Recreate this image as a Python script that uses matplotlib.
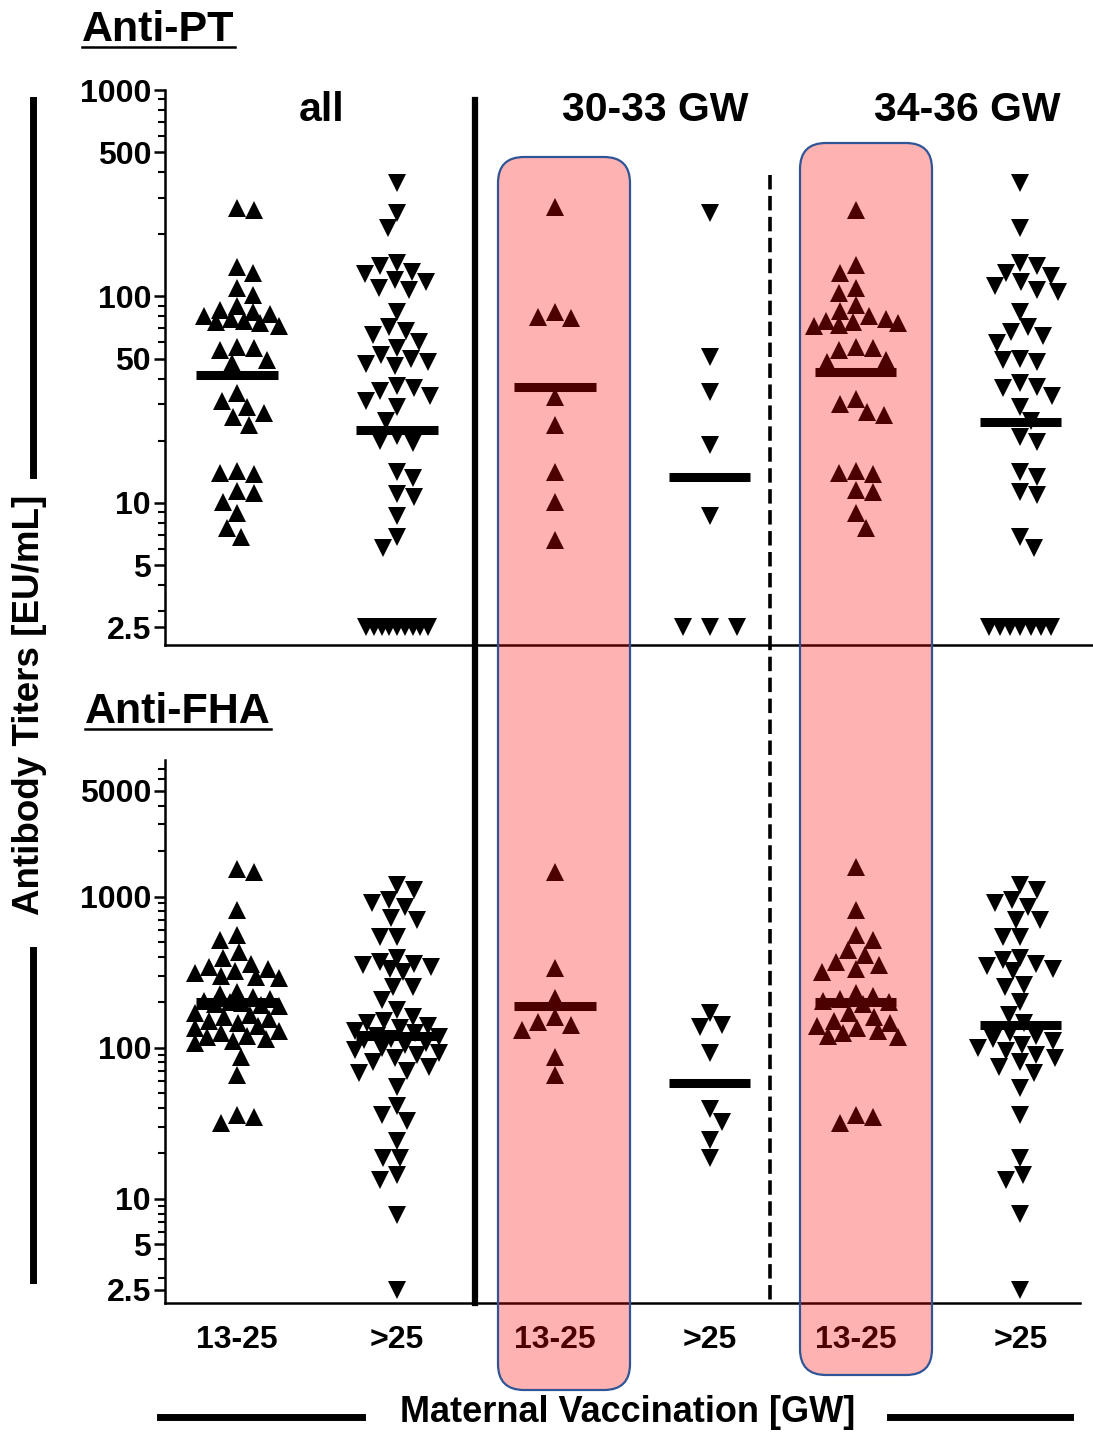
import numpy as np
import matplotlib
matplotlib.use('Agg')
import matplotlib.pyplot as plt
from matplotlib.patches import FancyBboxPatch
from matplotlib.lines import Line2D
from matplotlib.transforms import IdentityTransform, blended_transform_factory
import matplotlib.ticker as mticker

plt.rcParams['font.family'] = ['Liberation Sans', 'DejaVu Sans']
plt.rcParams['font.weight'] = 'bold'

# ---------------- data ----------------
group_labels = ["13-25", ">25", "13-25", ">25", "13-25", ">25"]
section_titles = ["all", "30-33 GW", "34-36 GW"]

pt_all_early = [268, 262, 139, 130, 110, 102, 90, 86, 84, 82, 80, 78, 76, 75, 74, 72,
                56, 55, 57, 49, 47.5, 34, 31, 29, 27.3, 26, 23.8, 14.2, 14, 13.8,
                11.4, 11.2, 10.1, 8.9, 7.6, 6.8]
pt_all_late = [355, 254, 215, 145, 140, 132, 128, 120, 117, 110, 107, 84, 71, 68, 65, 60,
               56, 52, 50, 48, 47, 46, 37, 36, 35, 33, 31, 29, 25, 21, 20, 19.6, 14.1,
               13.2, 11, 10.7, 8.6, 6.8, 6.05,
               2.5, 2.5, 2.5, 2.5, 2.5, 2.5, 2.5, 2.5, 2.5]
pt_3033_early = [271, 84, 79.5, 78.7, 32.6, 23.8, 14.1, 10.1, 6.6]
pt_3033_late = [254, 51, 34.5, 19.1, 8.6, 2.5, 2.5, 2.5]
pt_3436_early = [262, 142, 130, 110, 104, 91, 85, 80, 78, 76, 75, 74, 73, 72, 56, 55, 57,
                 49, 48, 32, 30, 27.6, 26.6, 14.2, 14, 13.8, 11.6, 11.3, 8.9, 7.6]
pt_3436_late = [355, 215, 145, 140, 130, 125, 118, 112, 108, 105, 84, 71, 67, 64, 59.5,
                49, 48, 50, 38, 36.5, 36, 33, 29, 25, 20.9, 19.8, 14.1, 13.4, 11.3, 10.9,
                6.8, 6.05, 2.5, 2.5, 2.5, 2.5, 2.5, 2.5, 2.5]
pt_means = [41.7, 22.6, 36.5, 13.4, 43.0, 24.7]

fha_all_early = [1510, 1460, 820, 560, 519, 433, 395, 360, 340, 330, 320, 310, 300, 295,
                 290, 235, 225, 215, 210, 205, 200, 198, 195, 192, 188, 170, 165, 160,
                 155, 150, 145, 140, 135, 130, 125, 120, 118, 115, 110, 108, 87, 66, 36,
                 32, 35]
fha_all_late = [1200, 1110, 950, 900, 850, 725, 700, 543, 543, 390, 370, 360, 350, 340,
                330, 315, 253, 253, 207, 178, 160, 150, 145, 140, 135, 130, 125, 120,
                118, 115, 112, 108, 105, 100, 97, 93, 90, 85, 80, 75, 70, 68, 55, 41, 36,
                33, 24, 18.6, 18.6, 14.4, 13.4, 7.8, 2.5]
fha_3033_early = [1460, 339, 214, 160, 149, 142, 132, 87, 66]
fha_3033_late = [171, 142, 138, 93, 39.3, 32.3, 24.6, 18.6]
fha_3436_early = [1560, 820, 560, 519, 445, 413, 370, 350, 330, 315, 230, 220, 210, 205,
                  200, 195, 170, 160, 150, 145, 140, 135, 130, 125, 120, 118, 36, 32, 35]
fha_3436_late = [1200, 1110, 950, 900, 850, 700, 700, 543, 543, 395, 380, 360, 345, 330,
                 320, 260, 253, 202, 165, 146, 125, 120, 115, 110, 105, 100, 95, 90, 85,
                 80, 75, 68, 54, 36, 18.6, 14.4, 13.4, 8, 2.5]
fha_means = [202, 120, 190, 58.6, 202, 142]

pt_ticks = [2.5, 5, 10, 50, 100, 500, 1000]
pt_ticklabels = ["2.5", "5", "10", "50", "100", "500", "1000"]
fha_ticks = [2.5, 5, 10, 100, 1000, 5000]
fha_ticklabels = ["2.5", "5", "10", "100", "1000", "5000"]

# ---------------- layout ----------------
W, H = 1093, 1432
fig = plt.figure(figsize=(W / 100, H / 100), dpi=100)


def fx(px):
    return px / W


def fy(py):
    return 1 - py / H


positions = [0, 1.02, 2.025, 3.01, 3.94, 4.99]
xlim = (-0.4586, 5.452)
markers = ['^', 'v', '^', 'v', '^', 'v']

ax1 = fig.add_axes([fx(165), fy(645), fx(1093) - fx(165), fy(90) - fy(645)])
ax2 = fig.add_axes([fx(165), fy(1303), fx(1093) - fx(165), fy(760) - fy(1303)])


def minor_ticks(lo, hi):
    out = []
    for dec in [1, 10, 100, 1000]:
        for m in range(2, 10):
            v = m * dec
            if lo < v < hi:
                out.append(v)
    return out


def setup(ax, ylim, ticks, labels):
    ax.set_yscale('log')
    ax.set_xlim(*xlim)
    ax.set_ylim(*ylim)
    for s in ['top', 'right']:
        ax.spines[s].set_visible(False)
    for s in ['left', 'bottom']:
        ax.spines[s].set_linewidth(1.8)
    ax.yaxis.set_major_locator(mticker.FixedLocator(ticks))
    ax.yaxis.set_major_formatter(mticker.FixedFormatter(labels))
    mins = [v for v in minor_ticks(ylim[0], ylim[1]) if v not in ticks]
    ax.yaxis.set_minor_locator(mticker.FixedLocator(mins))
    ax.yaxis.set_minor_formatter(mticker.NullFormatter())
    ax.tick_params(axis='y', which='major', length=8, width=1.8, labelsize=23, pad=2)
    ax.tick_params(axis='y', which='minor', length=5, width=1.5)
    ax.patch.set_visible(False)


setup(ax1, (2.05, 1000), pt_ticks, pt_ticklabels)
setup(ax2, (2.05, 8000), fha_ticks, fha_ticklabels)
ax1.set_xticks([])
ax2.set_xticks(positions)
ax2.set_xticklabels(group_labels, fontsize=23, fontweight='bold')
ax2.tick_params(axis='x', length=0, pad=16)
ax2.spines['bottom'].set_bounds(xlim[0], 5.37)


def swarm(ax, vals, xc, mind=17.0, maxw=42.0, tie_span=62.0, tie_gap=27.0):
    vals = np.asarray(vals, float)
    pts = ax.transData.transform(np.column_stack([np.full(len(vals), xc), vals]))
    ys = pts[:, 1]
    offs = np.zeros(len(vals))
    placed = []
    uniq, counts = np.unique(vals, return_counts=True)
    tie_vals = set(uniq[counts >= 3].tolist())
    for v in tie_vals:
        idx = np.where(vals == v)[0]
        k = len(idx)
        gap = min(tie_gap, tie_span / (k - 1))
        for j, i in enumerate(idx):
            offs[i] = (j - (k - 1) / 2) * gap
            placed.append((offs[i], ys[i]))
    order = [i for i in np.argsort(-vals, kind='stable') if vals[i] not in tie_vals]
    cands = np.arange(-maxw, maxw + 0.5, 1.0)
    cands = cands[np.argsort(np.abs(cands) + 0.01 * (cands > 0), kind='stable')]
    flip = 1
    for i in order:
        if placed:
            P = np.array(placed)
            cc = cands * flip
            d2 = (cc[:, None] - P[None, :, 0]) ** 2 + (ys[i] - P[None, :, 1]) ** 2
            mn = d2.min(axis=1)
            ok = np.where(mn >= mind ** 2)[0]
            c = cc[ok[0]] if len(ok) else cc[np.argmax(mn)]
        else:
            c = 0.0
        flip = -flip
        offs[i] = c
        placed.append((c, ys[i]))
    p0 = ax.transData.transform([[0, 10], [1, 10]])
    ppu = p0[1, 0] - p0[0, 0]
    return xc + offs / ppu


pt_groups = [pt_all_early, pt_all_late, pt_3033_early, pt_3033_late, pt_3436_early, pt_3436_late]
fha_groups = [fha_all_early, fha_all_late, fha_3033_early, fha_3033_late, fha_3436_early, fha_3436_late]

for ax, groups, means in [(ax1, pt_groups, pt_means), (ax2, fha_groups, fha_means)]:
    for g, xc, mk, mval in zip(groups, positions, markers, means):
        xs = swarm(ax, g, xc)
        ax.plot(xs, g, linestyle='none', marker=mk, markersize=12.5, color='black',
                markeredgewidth=0, zorder=3, clip_on=False)
        ax.hlines(mval, xc - 0.26, xc + 0.26, color='black', linewidth=6.5, zorder=4)

# separators
bt = blended_transform_factory(ax1.transData, fig.transFigure)
fig.add_artist(Line2D([1.516, 1.516], [fy(100), fy(1303)], transform=bt, color='black',
                      linewidth=4.5, zorder=2))
fig.add_artist(Line2D([3.395, 3.395], [fy(175), fy(1303)], transform=bt, color='black',
                      linewidth=2.6, linestyle=(0, (4.0, 1.8)), zorder=2))

# section titles
for t, px in zip(section_titles, [322, 655, 967]):
    fig.text(fx(px), fy(110), t, ha='center', va='center', fontsize=29.5, fontweight='bold')

# panel titles with underline
t_pt = fig.text(fx(82), fy(30), "Anti-PT", ha='left', va='center', fontsize=31, fontweight='bold')
t_fha = fig.text(fx(85), fy(712), "Anti-FHA", ha='left', va='center', fontsize=31, fontweight='bold')

# axis labels with bars
fig.text(fx(30), fy(705), "Antibody Titers [EU/mL]", rotation=90, ha='center', va='center',
         fontsize=26.5, fontweight='bold')
for y0, y1 in [(100, 475), (950, 1280)]:
    fig.add_artist(Line2D([fx(33), fx(33)], [fy(y0), fy(y1)], transform=fig.transFigure,
                          color='black', linewidth=5))
fig.text(fx(628), fy(1413), "Maternal Vaccination [GW]", ha='center', va='center',
         fontsize=26, fontweight='bold')
for x0, x1 in [(160, 362), (890, 1070)]:
    fig.add_artist(Line2D([fx(x0), fx(x1)], [fy(1417), fy(1417)], transform=fig.transFigure,
                          color='black', linewidth=5))

fig.canvas.draw()
r = fig.canvas.get_renderer()
for t in [t_pt, t_fha]:
    bb = t.get_window_extent(renderer=r)
    fig.add_artist(Line2D([bb.x0 / W, bb.x1 / W], [(bb.y0 + 3) / H, (bb.y0 + 3) / H],
                          transform=fig.transFigure, color='black', linewidth=1.8))

# highlight boxes
for (x0, y0, x1, y1) in [(498, 157, 630, 1390), (800, 143, 932, 1375)]:
    fig.add_artist(FancyBboxPatch((x0, H - y1), x1 - x0, y1 - y0,
                                  boxstyle='round,pad=0,rounding_size=26',
                                  transform=IdentityTransform(),
                                  facecolor=(1, 0, 0, 0.30), edgecolor='#2F5597',
                                  linewidth=1.6, zorder=10))

fig.savefig('out.png', dpi=100)
